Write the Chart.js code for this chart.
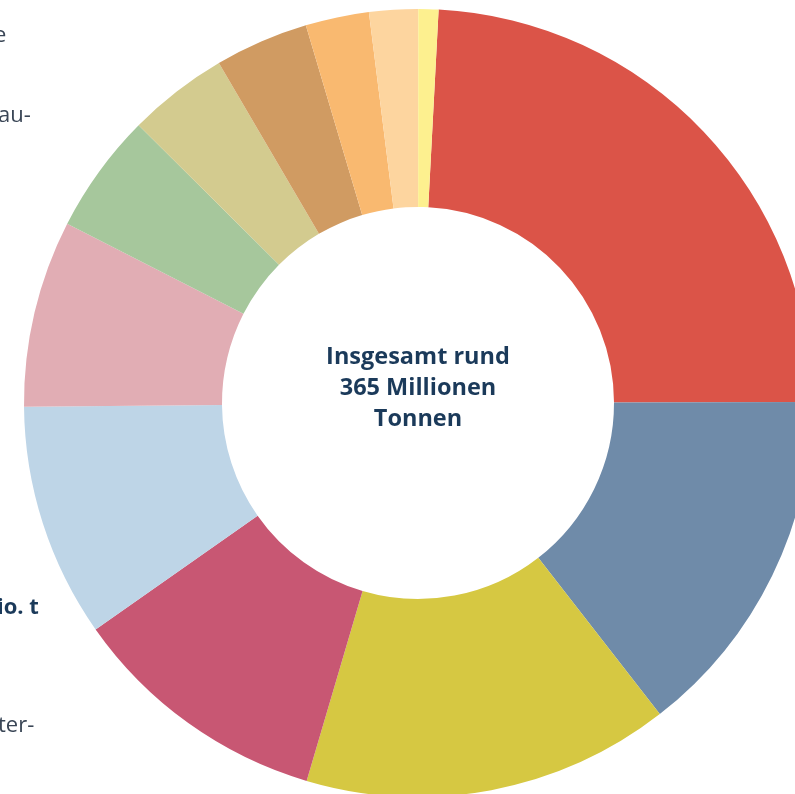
<!DOCTYPE html>
<html lang="de">
<head>
<meta charset="utf-8">
<title>Insgesamt rund 365 Millionen Tonnen</title>
<script src="https://cdn.jsdelivr.net/npm/chart.js@4"></script>
<style>
    html, body { margin: 0; padding: 0; background: #fff; }
    body { width: 795px; height: 794px; overflow: hidden; position: relative; font-family: "Open Sans", sans-serif; }
    #wrap { position: absolute; left: 0; top: 0; width: 836px; height: 806px; }
    .center-label {
        position: absolute; left: 268px; top: 340px; width: 300px;
        text-align: center; font-weight: bold; font-size: 23.5px; line-height: 31px; color: #1b3a5a;
    }
    .side { position: absolute; left: 0; font-size: 22px; color: #3a4656; white-space: nowrap; }
    .side.bold { font-weight: bold; color: #1b3a5a; }
</style>
</head>
<body>
<div id="wrap"><canvas id="donutChart" width="836" height="806"></canvas></div>
<div class="center-label">Insgesamt rund<br>365 Millionen<br>Tonnen</div>
<div class="side" style="top:18px;left:-6px">e</div>
<div class="side" style="top:98px;left:-2px">au-</div>
<div class="side bold" style="top:590px;left:-3px">io. t</div>
<div class="side" style="top:708px;left:-2px">ter-</div>
<script>
// Anteile in Mio. t, im Uhrzeigersinn ab knapp rechts von oben
const categories = [
    'Anteil 1', 'Anteil 2', 'Anteil 3', 'Anteil 4', 'Anteil 5', 'Anteil 6',
    'Anteil 7', 'Anteil 8', 'Anteil 9', 'Anteil 10', 'Anteil 11', 'Anteil 12'
];
const valuesMioT = [88, 53, 55, 39, 35, 28, 18, 15, 14, 9.5, 7.3, 3];
const sliceColors = [
    '#db5448', '#6f8ba9', '#d6c842', '#c85773', '#bed5e7', '#e1adb4',
    '#a6c79c', '#d3cb8f', '#d09b62', '#f9b970', '#fdd59f', '#fdf08f'
];

document.addEventListener('DOMContentLoaded', function () {
    const ctx = document.getElementById('donutChart').getContext('2d');
    new Chart(ctx, {
        type: 'doughnut',
        data: {
            labels: categories,
            datasets: [{
                data: valuesMioT,
                backgroundColor: sliceColors,
                borderWidth: 0
            }]
        },
        options: {
            responsive: false,
            animation: false,
            rotation: 3,
            radius: 394,
            cutout: '49.75%',
            plugins: {
                legend: { display: false },
                tooltip: { enabled: false }
            }
        }
    });
});
</script>
</body>
</html>
